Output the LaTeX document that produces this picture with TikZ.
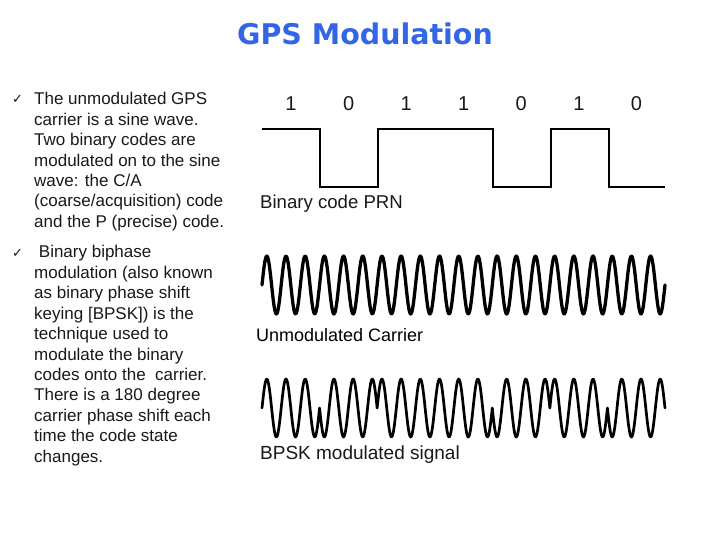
\documentclass[tikz,border=0pt]{standalone}
\usepackage{fontspec}
\setmainfont{Liberation Sans}
\newfontfamily\titlefont{DejaVu Sans}
\newfontfamily\symfont{DejaVu Sans}
\definecolor{titleblue}{RGB}{51,102,230}
\definecolor{inkgray}{RGB}{25,25,25}
\begin{document}
\begin{tikzpicture}[x=1pt,y=-1pt,
        every node/.style={inner sep=0pt},
        bodytext/.style={anchor=base west, font=\fontsize{17}{20.4}\selectfont, text=inkgray},
        checkmark/.style={anchor=base west, font=\symfont\fontsize{13}{13}\selectfont, text=inkgray},
        figlabel/.style={anchor=base west, text=inkgray},
        bitlabel/.style={anchor=base, font=\fontsize{20}{20}\selectfont, text=inkgray},
        wave/.style={line width=3pt, line join=round, line cap=round},
        codeline/.style={line width=2pt}]
        \useasboundingbox (0,0) rectangle (720,540);
        \fill[white] (0,0) rectangle (720,540);

        % Title
        \node[anchor=base, font=\titlefont\bfseries\fontsize{28.5}{28.5}\selectfont, text=titleblue] (title) at (365,45) {GPS Modulation};

        % Left column text
        \node[checkmark] (tick1) at (12,104) {✓};
        \foreach \line [count=\i from 0] in {{The unmodulated GPS}, {carrier is a sine wave.}, {Two binary codes are}, {modulated on to the sine}, {wave: the C/A}, {(coarse/acquisition) code}, {and the P (precise) code.}} {
                \node[bodytext] (pa\i) at (34, {105+20.4*\i}) {\line};
            }
        \node[checkmark] (tick2) at (12,257) {✓};
        \foreach \line [count=\i from 0] in {{\ Binary biphase}, {modulation (also known}, {as binary phase shift}, {keying [BPSK]) is the}, {technique used to}, {modulate the binary}, {codes onto the\ \ carrier.}, {There is a 180 degree}, {carrier phase shift each}, {time the code state}, {changes.}} {
                \node[bodytext] (pb\i) at (34, {258+20.4*\i}) {\line};
            }

        % Binary code
        \foreach \b [count=\i from 0] in {1,0,1,1,0,1,0} {
                \node[bitlabel] (bit\i) at ({291+57.57*\i}, 111) {\b};
            }
        \draw[codeline] (262,129) -| (320,187) -| (378,129) -| (493,187) -| (551,129) -| (609,187) -- (665,187);
        \node[figlabel, font=\fontsize{18.6}{18.6}\selectfont] (prn) at (260,209) {Binary code PRN};

        % Unmodulated carrier
        \draw[wave, line width=3.3pt] plot[domain=262:665, samples=500] (\x, {285-29*sin((\x-262)/19.19*360)});
        \node[figlabel, font=\fontsize{18}{18}\selectfont, text=black] (carrier) at (256,341) {Unmodulated Carrier};

        % BPSK signal
        \draw[wave, line width=2.7pt] (262,408)
            \foreach \b [count=\i from 0, evaluate=\i as \xa using 262+\i*57.57, evaluate=\i as \xb using 262+(\i+1)*57.57] in {1,-1,1,1,-1,1,-1} {
                -- plot[domain=\xa:\xb, samples=80] (\x, {408-29*\b*sin((\x-262)/19.19*360)})
            };
        \node[figlabel, font=\fontsize{19}{19}\selectfont] (bpsk) at (260,459) {BPSK modulated signal};
    \end{tikzpicture}
\end{document}
